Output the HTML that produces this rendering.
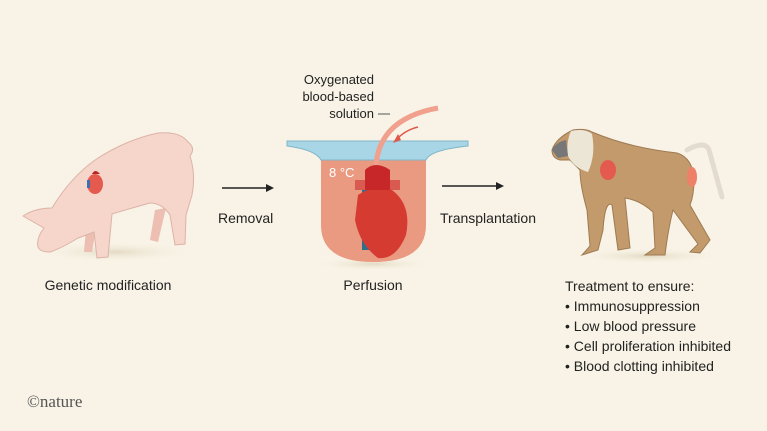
<!DOCTYPE html>
<html><head><style>
body{margin:0;background:#f8f3e6;}
svg{display:block}
text{font-family:"Liberation Sans",sans-serif;fill:#222;font-size:14px}
</style></head><body>
<svg width="767" height="431" viewBox="0 0 767 431">
<defs>
<radialGradient id="sh"><stop offset="0" stop-color="#e3dac3"/><stop offset="1" stop-color="#f8f3e6" stop-opacity="0"/></radialGradient>
</defs>
<rect width="767" height="431" fill="#f8f3e6"/>
<!-- pig -->
<ellipse cx="115" cy="252" rx="80" ry="10" fill="url(#sh)"/>
<path d="M155 210 L150 240 L158 242 L166 208Z" fill="#ecbfb2"/>
<path d="M86 228 L84 252 L92 252 L96 228Z" fill="#ecbfb2"/>
<path d="M38 247 Q36 238 44 228 L23 216 Q35 208 52 208 Q70 178 95 160 Q125 140 158 133 Q180 131 188 142 Q196 148 190 156 Q196 175 192 195 L186 215 L185 244 L175 245 L170 215 Q162 203 150 203 Q125 210 112 214 L108 257 L97 258 L94 232 Q84 236 78 238 Q62 248 50 252 Q40 252 38 247Z" fill="#f6d5cb" stroke="#dcb3a6" stroke-width="1"/>
<g transform="translate(95,182)">
<ellipse cx="0" cy="2" rx="8" ry="10" fill="#e55a4e"/>
<path d="M-3 -8 Q0 -14 5 -8" fill="#b8262a"/>
<rect x="-8" y="-2" width="3" height="8" fill="#3a6fb0"/>
</g>
<!-- arrows -->
<line x1="222" y1="188" x2="268" y2="188" stroke="#222" stroke-width="1.5"/>
<path d="M274 188 L266 184 L266 192Z" fill="#222"/>
<text x="218" y="223">Removal</text>
<line x1="442" y1="186" x2="498" y2="186" stroke="#222" stroke-width="1.5"/>
<path d="M504 186 L496 182 L496 190Z" fill="#222"/>
<text x="440" y="223">Transplantation</text>
<!-- bowl -->
<ellipse cx="373" cy="264" rx="60" ry="7" fill="url(#sh)"/>
<path d="M321 150 L426 150 L426 225 Q426 262 373 262 Q321 262 321 225Z" fill="#e99a80"/>
<path d="M287 141 L468 141 L468 146 Q430 150 426 160 L321 160 Q316 150 287 146Z" fill="#a8d6e6" stroke="#7fb6c9" stroke-width="1"/>
<path d="M376 178 Q372 120 438 108" fill="none" stroke="#f0a08c" stroke-width="5"/>
<path d="M418 127 Q405 130 396 140" fill="none" stroke="#e0584a" stroke-width="1.5"/>
<path d="M393 143 L398 134 L401 140Z" fill="#e0584a"/>
<rect x="362" y="190" width="10" height="60" fill="#2e6f8a"/>
<path d="M355 180 L400 180 L400 190 L355 190Z" fill="#d85a50"/>
<path d="M358 195 Q372 185 392 190 Q412 205 406 235 Q396 260 378 258 Q360 245 355 220Z" fill="#d63b32"/>
<path d="M365 170 Q375 160 390 170 L390 190 L365 190Z" fill="#c8272a"/>
<text x="329" y="177" style="fill:#fff;font-size:13px">8 °C</text>
<text x="374" y="84" text-anchor="end" style="font-size:13px">Oxygenated</text>
<text x="374" y="101" text-anchor="end" style="font-size:13px">blood-based</text>
<text x="374" y="118" text-anchor="end" style="font-size:13px">solution</text>
<line x1="378" y1="114" x2="390" y2="114" stroke="#555"/>
<text x="373" y="290" text-anchor="middle">Perfusion</text>
<text x="108" y="290" text-anchor="middle">Genetic modification</text>
<!-- baboon -->
<ellipse cx="648" cy="256" rx="75" ry="8" fill="url(#sh)"/>
<path d="M687 150 Q705 140 709 150 Q716 175 722 197" fill="none" stroke="#e4dbd0" stroke-width="5" stroke-linecap="round"/>
<path d="M552 150 Q556 138 573 130 Q585 128 592 132 Q630 148 677 153 Q693 158 694 180 Q694 195 690 205 L710 240 L700 253 L690 252 L698 244 L673 210 Q668 230 665 255 L645 255 L655 248 L653 212 Q640 200 625 198 L630 248 L618 250 L612 205 Q605 200 603 230 L598 250 L582 255 L590 246 L587 210 Q580 185 580 170 L570 160 L560 160 Q552 158 552 150Z" fill="#c39a6c" stroke="#9e7a52" stroke-width="1"/>
<path d="M571 131 Q585 128 592 134 Q596 155 588 172 Q574 168 568 156 Q566 142 571 131Z" fill="#ece6d6"/>
<path d="M552 150 Q556 142 566 140 L568 156 L558 158Z" fill="#777"/>
<ellipse cx="608" cy="170" rx="8" ry="10" fill="#e55a4e"/>
<ellipse cx="692" cy="177" rx="5" ry="10" fill="#ef8068"/>
<text x="565" y="291">Treatment to ensure:</text>
<text x="565" y="311">• Immunosuppression</text>
<text x="565" y="331">• Low blood pressure</text>
<text x="565" y="351">• Cell proliferation inhibited</text>
<text x="565" y="371">• Blood clotting inhibited</text>
<text x="27" y="407" style="font-family:'Liberation Serif',serif;font-size:17px;fill:#555">©nature</text>
</svg>
</body></html>
